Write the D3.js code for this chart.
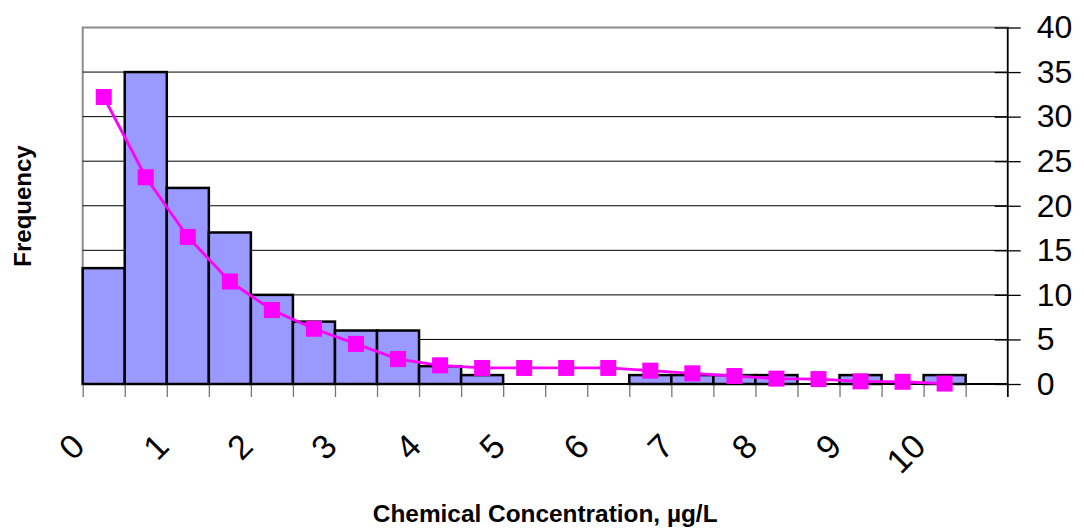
<!DOCTYPE html>
<html>
<head>
<meta charset="utf-8">
<script src="https://cdn.jsdelivr.net/npm/d3@7"></script>
<style>
  body { margin: 0; background: #fff; }
  svg { display: block; font-family: Arial, "Liberation Sans", sans-serif; }
</style>
</head>
<body>
<svg width="1084" height="529"></svg>
<script>
// bin starts (width 0.5), frequencies per bin, fitted curve at bin centres
var binStart = [0, 0.5, 1, 1.5, 2, 2.5, 3, 3.5, 4, 4.5, 5, 5.5, 6, 6.5, 7, 7.5, 8, 8.5, 9, 9.5, 10, 10.5];
var freq = [13, 35, 22, 17, 10, 7, 6, 6, 2, 1, 0, 0, 0, 1, 1, 1, 1, 0, 1, 0, 1, 0];
var fitX = [0.25, 0.75, 1.25, 1.75, 2.25, 2.75, 3.25, 3.75, 4.25, 4.75, 5.25, 5.75, 6.25, 6.75, 7.25, 7.75, 8.25, 8.75, 9.25, 9.75, 10.25];
var fitY = [32.2, 23.2, 16.5, 11.5, 8.3, 6.2, 4.5, 2.8, 2.1, 1.8, 1.8, 1.8, 1.8, 1.5, 1.2, 0.9, 0.6, 0.55, 0.3, 0.25, 0.05];
var xTicks = [0, 0.5, 1, 1.5, 2, 2.5, 3, 3.5, 4, 4.5, 5, 5.5, 6, 6.5, 7, 7.5, 8, 8.5, 9, 9.5, 10, 10.5, 11];
var xLabels = [0, 1, 2, 3, 4, 5, 6, 7, 8, 9, 10];
var yTicks = [0, 5, 10, 15, 20, 25, 30, 35, 40];
var binWidth = 0.5;

var svg = d3.select("svg"),
    pLeft = 82.7, pRight = 1007.7, pTop = 27.5, pBottom = 384;

var x = d3.scaleLinear().domain([0, 11]).range([pLeft, pRight]),
    y = d3.scaleLinear().domain([0, 40]).range([pBottom, pTop]);

// plot area frame (grey)
svg.append("rect")
    .attr("x", pLeft).attr("y", pTop)
    .attr("width", pRight - pLeft).attr("height", pBottom - pTop)
    .attr("fill", "none").attr("stroke", "#8c8c8c").attr("stroke-width", 2);

// gridlines
svg.append("g").selectAll("line")
    .data(yTicks.filter(function(d) { return d > 0 && d < 40; }))
    .enter().append("line")
    .attr("x1", pLeft).attr("x2", pRight)
    .attr("y1", function(d) { return y(d); })
    .attr("y2", function(d) { return y(d); })
    .attr("stroke", "#000").attr("stroke-width", 1);

// bars
svg.append("g").selectAll("rect")
    .data(binStart.map(function(b, i) { return {b: b, v: freq[i]}; }).filter(function(d) { return d.v > 0; }))
    .enter().append("rect")
    .attr("x", function(d) { return x(d.b); })
    .attr("y", function(d) { return y(d.v); })
    .attr("width", function(d) { return x(d.b + binWidth) - x(d.b); })
    .attr("height", function(d) { return pBottom - y(d.v); })
    .attr("fill", "#9999ff")
    .attr("stroke", "#000")
    .attr("stroke-width", 2.5);

// x axis ticks
var xAxis = svg.append("g")
    .attr("transform", "translate(0," + pBottom + ")")
    .call(d3.axisBottom(x).tickValues(xTicks).tickSize(13).tickFormat(""));
xAxis.select(".domain").remove();
xAxis.selectAll("line").attr("stroke", "#777").attr("stroke-width", 1.3);
svg.append("line")
    .attr("x1", pLeft).attr("x2", pRight)
    .attr("y1", pBottom).attr("y2", pBottom)
    .attr("stroke", "#000").attr("stroke-width", 2);

// x labels, rotated
var xLab = svg.append("g")
    .attr("transform", "translate(0," + pBottom + ")")
    .call(d3.axisBottom(x).tickValues(xLabels).tickSize(0));
xLab.select(".domain").remove();
xLab.selectAll("text")
    .attr("y", null).attr("dy", null)
    .attr("font-size", "34px")
    .attr("font-family", "Arial, 'Liberation Sans', sans-serif")
    .attr("fill", "#000")
    .attr("text-anchor", "end")
    .attr("dominant-baseline", "central")
    .attr("transform", "translate(-5,56) rotate(-45)");

// right axis
var yAxis = svg.append("g")
    .attr("transform", "translate(" + pRight + ",0)")
    .call(d3.axisRight(y).tickValues(yTicks).tickSize(13).tickPadding(16));
yAxis.select(".domain")
    .attr("d", "M0," + pTop + "V" + (pBottom + 13))
    .attr("stroke", "#000").attr("stroke-width", 1.5);
yAxis.selectAll(".tick line").attr("x1", -13).attr("stroke", "#000").attr("stroke-width", 1.3);
yAxis.selectAll("text")
    .attr("font-size", "32px")
    .attr("font-family", "Arial, 'Liberation Sans', sans-serif")
    .attr("fill", "#000");

// fitted curve
var line = d3.line()
    .x(function(d) { return x(d[0]); })
    .y(function(d) { return y(d[1]); });
var pts = fitX.map(function(v, i) { return [v, fitY[i]]; });
svg.append("path")
    .datum(pts)
    .attr("d", line)
    .attr("fill", "none")
    .attr("stroke", "#ff00ff")
    .attr("stroke-width", 2.8);
svg.append("g").selectAll("rect")
    .data(pts)
    .enter().append("rect")
    .attr("x", function(d) { return x(d[0]) - 8; })
    .attr("y", function(d) { return y(d[1]) - 8; })
    .attr("width", 16).attr("height", 16)
    .attr("fill", "#ff00ff");

// axis titles
svg.append("text")
    .attr("x", (pLeft + pRight) / 2)
    .attr("y", 521.5)
    .attr("text-anchor", "middle")
    .attr("font-size", "24.4px")
    .attr("font-weight", "bold")
    .text("Chemical Concentration, µg/L");

svg.append("text")
    .attr("transform", "translate(31,206) rotate(-90)")
    .attr("text-anchor", "middle")
    .attr("font-size", "24px")
    .attr("font-weight", "bold")
    .text("Frequency");
</script>
</body>
</html>
